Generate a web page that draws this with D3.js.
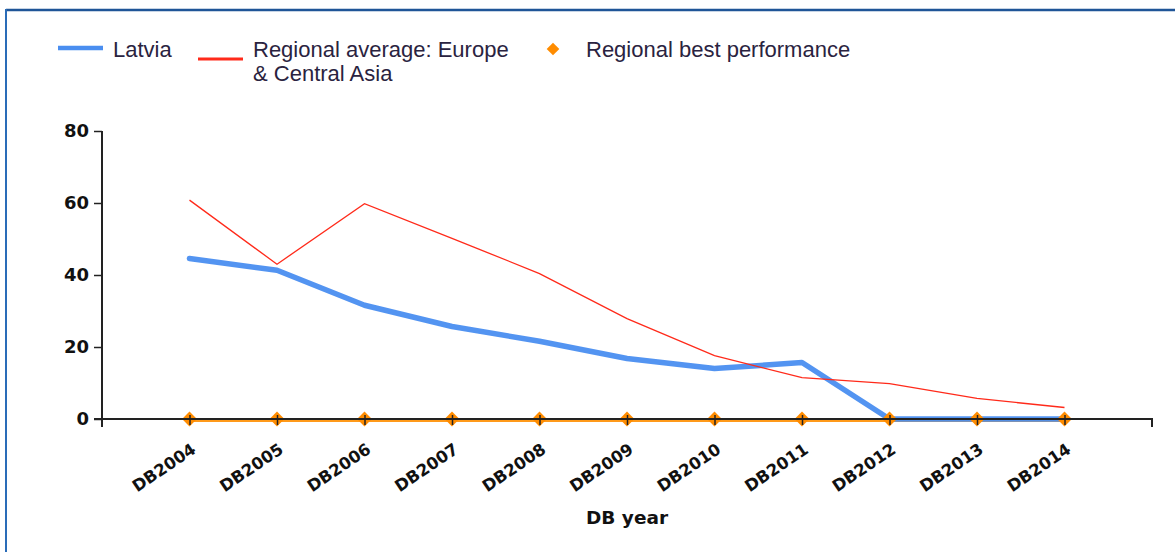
<!DOCTYPE html>
<html>
<head>
<meta charset="utf-8">
<script src="https://cdn.jsdelivr.net/npm/d3@7/dist/d3.min.js"></script>
<style>
  html, body { margin: 0; padding: 0; background: #fff; }
  svg { display: block; }
</style>
</head>
<body>
<svg id="chart" width="1175" height="552"></svg>
<script>
const categories = ["DB2004","DB2005","DB2006","DB2007","DB2008","DB2009","DB2010","DB2011","DB2012","DB2013","DB2014"];
const latvia = [44.6, 41.3, 31.6, 25.7, 21.6, 16.8, 14.0, 15.7, 0, 0, 0];
const regionalAvg = [60.8, 43.0, 59.8, 50.2, 40.4, 27.9, 17.6, 11.5, 9.8, 5.7, 3.2];
const regionalBest = [0, 0, 0, 0, 0, 0, 0, 0, 0, 0, 0];
const yTicks = [0, 20, 40, 60, 80];
const seriesNames = ["Latvia", "Regional average: Europe", "& Central Asia", "Regional best performance"];
const xTitle = "DB year";

const svg = d3.select("#chart");

// frame
svg.append("line").attr("x1", 6).attr("x2", 1175).attr("y1", 10).attr("y2", 10)
  .attr("stroke", "#1f5597").attr("stroke-width", 2.5);
svg.append("line").attr("x1", 6).attr("x2", 6).attr("y1", 9).attr("y2", 552)
  .attr("stroke", "#2a6cb8").attr("stroke-width", 2);

const x0 = 102, x1 = 1152, yTop = 131, yBot = 419;
const x = d3.scalePoint().domain(categories).range([x0, x1]).padding(1);
const y = d3.scaleLinear().domain([0, 80]).range([yBot, yTop]);

const line = d3.line().x((d, i) => x(categories[i])).y(d => y(d));

// series (drawn under axes)
svg.append("path").datum(regionalBest).attr("d", line).attr("fill", "none")
  .attr("stroke", "#ff9a1a").attr("stroke-width", 3).attr("transform", "translate(0,1.5)");
svg.append("path").datum(latvia).attr("d", line).attr("fill", "none")
  .attr("stroke", "#4a8ef0").attr("stroke-width", 5.5).attr("stroke-linejoin", "round").attr("stroke-linecap", "round")
  .attr("opacity", 0.95);
svg.append("path").datum(regionalAvg).attr("d", line).attr("fill", "none")
  .attr("stroke", "#ff2a1a").attr("stroke-width", 1.3);
svg.selectAll(".best").data(regionalBest).enter().append("path")
  .attr("d", d3.symbol().type(d3.symbolSquare).size(110))
  .attr("transform", (d, i) => `translate(${x(categories[i])},${y(d)}) rotate(45)`)
  .attr("fill", "#ff8c00");

// y axis
const yAxis = svg.append("g").attr("transform", `translate(${x0},0)`)
  .call(d3.axisLeft(y).tickValues(yTicks).tickSize(8).tickPadding(5));
yAxis.select(".domain").attr("stroke", "#222").attr("stroke-width", 2).attr("d", `M0,${yTop}V${yBot + 8}`);
yAxis.selectAll(".tick line").attr("stroke", "#222").attr("stroke-width", 1.5);
yAxis.selectAll(".tick text").attr("font-family", "DejaVu Sans, sans-serif").attr("font-weight", "bold")
  .attr("font-size", 18).attr("fill", "#111");

// x axis
const xAxis = svg.append("g").attr("transform", `translate(0,${yBot})`)
  .call(d3.axisBottom(x).tickSize(6).tickPadding(8));
xAxis.select(".domain").attr("stroke", "#222").attr("stroke-width", 2)
  .attr("d", `M${x0 - 8},0H${x1}V8`);
xAxis.selectAll(".tick line").attr("stroke", "#222").attr("stroke-width", 1.5).attr("y1", -4);
xAxis.selectAll(".tick text")
  .attr("font-family", "DejaVu Sans, sans-serif").attr("font-weight", "bold").attr("font-size", 16.5)
  .attr("fill", "#111").attr("text-anchor", "end")
  .attr("y", 0).attr("dy", 0)
  .attr("transform", "translate(7,33) rotate(-34)");

svg.append("text").attr("x", 627).attr("y", 524).attr("text-anchor", "middle")
  .attr("font-family", "DejaVu Sans, sans-serif").attr("font-weight", "bold").attr("font-size", 18.5)
  .attr("fill", "#111").text(xTitle);

// legend
const lf = "Liberation Sans, Arial, sans-serif";
const lg = svg.append("g");
lg.append("line").attr("x1", 58).attr("x2", 103).attr("y1", 48).attr("y2", 48)
  .attr("stroke", "#4a8ef0").attr("stroke-width", 4.5);
lg.append("text").attr("x", 113).attr("y", 57).text(seriesNames[0]);
lg.append("line").attr("x1", 198).attr("x2", 243).attr("y1", 59).attr("y2", 59)
  .attr("stroke", "#ff2a1a").attr("stroke-width", 3);
lg.append("text").attr("x", 253).attr("y", 57).text(seriesNames[1]);
lg.append("text").attr("x", 253).attr("y", 81).text(seriesNames[2]);
lg.append("path").attr("d", d3.symbol().type(d3.symbolSquare).size(80))
  .attr("transform", "translate(553,49) rotate(45)").attr("fill", "#ff8c00");
lg.append("text").attr("x", 586).attr("y", 57).text(seriesNames[3]);
lg.selectAll("text").attr("font-family", lf).attr("font-size", 22).attr("fill", "#2a2340");
</script>
</body>
</html>
